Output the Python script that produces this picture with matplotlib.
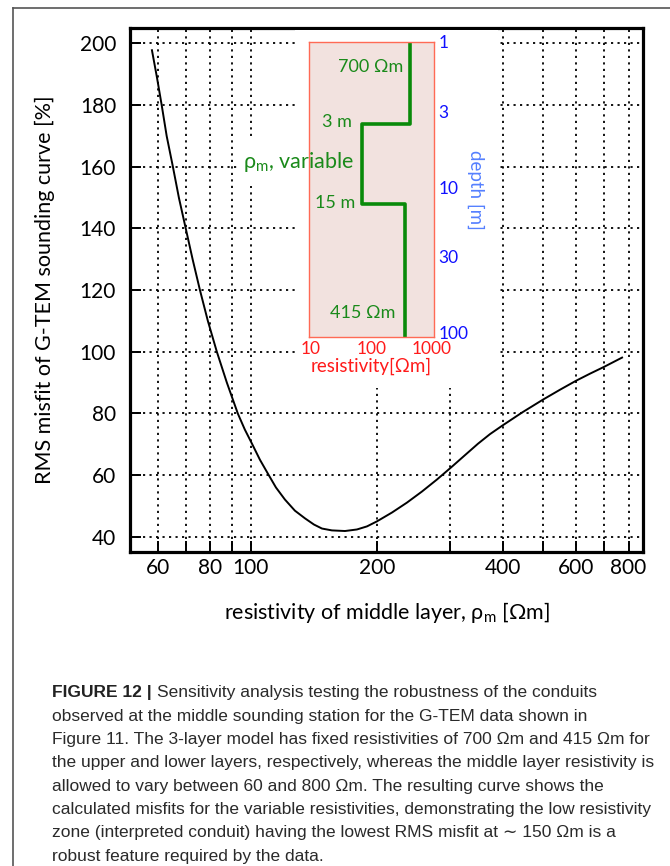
import numpy as np
import matplotlib
matplotlib.use('Agg')
import matplotlib.pyplot as plt
from matplotlib import font_manager
from matplotlib.patches import Rectangle
from matplotlib.lines import Line2D
from matplotlib.ticker import NullLocator

# data
rho_mid = [58.0, 59.6, 61.2, 62.9, 65.1, 67.3, 69.9, 72.6, 75.5, 78.9, 82.9, 87.6,
           93.1, 96.7, 100.6, 105.1, 109.8, 114.8, 120.6, 127.4, 134.7, 141.5,
           147.9, 156.2, 167.9, 179.3, 189.5, 200.0, 217.5, 236.1, 256.5, 278.6,
           301.0, 325.1, 349.2, 373.0, 398.6, 445.0, 499.6, 548.6, 599.1, 647.1,
           699.1, 771.7]
misfit = [197.7, 189.0, 179.9, 169.9, 159.9, 149.8, 139.8, 129.8, 120.1, 110.0,
          100.0, 90.0, 79.9, 74.8, 70.2, 65.0, 60.5, 56.0, 52.1, 48.5, 46.0, 44.0,
          42.7, 42.1, 41.9, 42.4, 43.4, 45.0, 47.9, 51.1, 54.7, 58.6, 62.5, 66.5,
          70.2, 73.3, 76.0, 80.3, 84.5, 87.7, 90.6, 92.9, 95.1, 98.1]

x_ticks = [60, 70, 80, 90, 100, 200, 300, 400, 500, 600, 700, 800]
x_labels = ['60', '', '80', '', '100', '200', '', '400', '', '600', '', '800']
y_ticks = [40, 60, 80, 100, 120, 140, 160, 180, 200]

# 3-layer model shown in the inset (as drawn)
layer_rho = [430, 70, 360]
layer_top = [1, 3.68, 13.1]
model_bottom = 108
inset_xticks = [10, 100, 1000]
inset_yticks = [1, 3, 10, 30, 100]

names = {f.name for f in font_manager.fontManager.ttflist}
cap_font = 'Liberation Sans Narrow' if 'Liberation Sans Narrow' in names else 'Liberation Sans'

plt.rcParams['font.family'] = ['Lato', 'DejaVu Sans']
plt.rcParams['mathtext.fontset'] = 'custom'
plt.rcParams['mathtext.rm'] = 'Lato'

W, H = 670, 866
fig = plt.figure(figsize=(W / 100, H / 100), dpi=100)

def fx(px):
    return px / W

def fy(py):
    return 1 - py / H

ax = fig.add_axes([fx(130), fy(552), fx(643) - fx(130), fy(28) - fy(552)])
ax.set_xscale('log')
ax.set_xlim(51.4, 866)
ax.set_ylim(35.1, 204.9)
ax.xaxis.set_minor_locator(NullLocator())
ax.set_xticks(x_ticks)
ax.set_xticklabels(x_labels)
ax.set_yticks(y_ticks)
ax.grid(True, color='black', linestyle=(0, (1.2, 2.4)), linewidth=1.3, zorder=1)
ax.tick_params(axis='both', direction='in', length=8, width=1.4,
               labelsize=15, colors='black')
ax.tick_params(axis='y', pad=10)
ax.tick_params(axis='x', pad=4)
for s in ax.spines.values():
    s.set_linewidth(2.3)

ax.plot(rho_mid, misfit, color='black', linewidth=1.4, zorder=3)

ax.set_xlabel('resistivity of middle layer, ρ$_\\mathrm{m}$ [Ωm]', fontsize=15.5, labelpad=16)
ax.set_ylabel('RMS misfit of G-TEM sounding curve [%]', fontsize=15.5, labelpad=18)

# white area behind the inset hides the grid there
fig.add_artist(Rectangle((fx(295), fy(388)), fx(498) - fx(295), fy(30) - fy(388),
                         transform=fig.transFigure, facecolor='white',
                         edgecolor='none', zorder=2))
fig.add_artist(Rectangle((fx(238), fy(186)), fx(296) - fx(238), fy(140) - fy(186),
                         transform=fig.transFigure, facecolor='white',
                         edgecolor='none', zorder=2))

# inset with the layered model
axi = fig.add_axes([fx(309), fy(337), fx(434) - fx(309), fy(42) - fy(337)], zorder=3)
axi.set_facecolor('#f2e2df')
axi.set_xscale('log')
axi.set_yscale('log')
axi.set_xlim(9.26, 1080)
axi.set_ylim(model_bottom, 1)
axi.xaxis.set_minor_locator(NullLocator())
axi.yaxis.set_minor_locator(NullLocator())
axi.set_xticks(inset_xticks)
axi.set_xticklabels([str(v) for v in inset_xticks])
axi.set_yticks(inset_yticks)
axi.set_yticklabels([str(v) for v in inset_yticks])
axi.yaxis.tick_right()
axi.yaxis.set_label_position('right')
axi.tick_params(axis='x', length=0, pad=3, labelsize=12.5, labelcolor='#ff1a1a')
axi.tick_params(axis='y', length=0, pad=3, labelsize=12.5, labelcolor='#1010ff')
for s in axi.spines.values():
    s.set_color('#ff6a55')
    s.set_linewidth(1.0)
axi.set_xlabel('resistivity[Ωm]', fontsize=13.5, color='#ff1a1a', labelpad=0)
axi.set_ylabel('depth [m]', fontsize=13.5, color='#5580ff', rotation=270, labelpad=12)

step_x = []
step_y = []
bounds = layer_top + [model_bottom]
for i, r in enumerate(layer_rho):
    step_x += [r, r]
    step_y += [bounds[i], bounds[i + 1]]
axi.plot(step_x, step_y, color='#0a8a0a', linewidth=2.6, solid_capstyle='butt')

green = '#1a8a1a'
axi.text(0.49, 0.915, '700 Ωm', transform=axi.transAxes, ha='center', va='center',
         fontsize=13, color=green)
axi.text(0.224, 0.729, '3 m', transform=axi.transAxes, ha='center', va='center',
         fontsize=13, color=green)
axi.text(0.208, 0.454, '15 m', transform=axi.transAxes, ha='center', va='center',
         fontsize=13, color=green)
axi.text(0.432, 0.081, '415 Ωm', transform=axi.transAxes, ha='center', va='center',
         fontsize=13, color=green)
fig.text(fx(243), fy(162), 'ρ$_\\mathrm{m}$, variable', ha='left', va='center',
         fontsize=15.5, color=green, zorder=5)

# outer frame of the figure panel
fig.add_artist(Line2D([fx(13), 1], [fy(8), fy(8)], transform=fig.transFigure,
                      color='#555555', linewidth=1.2))
fig.add_artist(Line2D([fx(13), fx(13)], [fy(8), 0], transform=fig.transFigure,
                      color='#555555', linewidth=1.2))

# caption
cap_lines = [
    'observed at the middle sounding station for the G-TEM data shown in',
    'Figure 11. The 3-layer model has fixed resistivities of 700 Ωm and 415 Ωm for',
    'the upper and lower layers, respectively, whereas the middle layer resistivity is',
    'allowed to vary between 60 and 800 Ωm. The resulting curve shows the',
    'calculated misfits for the variable resistivities, demonstrating the low resistivity',
    'zone (interpreted conduit) having the lowest RMS misfit at ∼ 150 Ωm is a',
    'robust feature required by the data.',
]
cap_fam = [cap_font, 'DejaVu Sans']
t1 = fig.text(fx(52), fy(693), 'FIGURE 12 | ', fontsize=12.5, fontweight='bold',
              family=cap_fam, va='center', color='#222222')
plt.annotate('Sensitivity analysis testing the robustness of the conduits',
             xy=(1, 0), xycoords=t1, va='bottom', ha='left', fontsize=12.5,
             family=cap_fam, color='#2a2a2a', annotation_clip=False)
for i, line in enumerate(cap_lines):
    fig.text(fx(52), fy(693 + 23.3 * (i + 1)), line, fontsize=12.5, family=cap_fam,
             va='center', color='#2a2a2a')

fig.savefig('out.png', dpi=100)
